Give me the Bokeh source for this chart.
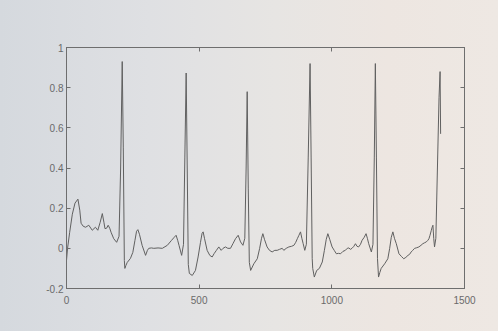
from bokeh.plotting import figure
from bokeh.models import LinearAxis, FixedTicker, InlineStyleSheet, Range1d
from bokeh.embed import file_html
from bokeh.resources import INLINE

# ECG trace
ecg_x = [0, 4, 12, 22, 32, 43, 50, 55, 63, 72, 84, 97, 109, 118, 127, 135, 141, 145, 151, 157,
         163, 168, 178, 189, 198, 204, 210, 214, 218, 220, 224, 229, 241, 250, 258, 264, 269, 275,
         285, 298, 305, 310, 320, 329, 345, 361, 380, 396, 406, 413, 419, 424, 434, 441, 446, 451,
         455, 459, 463, 474, 486, 496, 505, 511, 515, 520, 530, 540, 549, 557, 565, 574, 583, 590,
         599, 608, 618, 628, 637, 647, 656, 665, 672, 677, 681, 685, 689, 694, 706, 719, 728, 735,
         740, 746, 756, 765, 775, 785, 794, 803, 813, 819, 828, 838, 848, 857, 864, 870, 876, 882,
         887, 892, 898, 904, 911, 918, 922, 926, 928, 934, 943, 953, 964, 972, 979, 985, 992, 1001,
         1009, 1017, 1025, 1033, 1042, 1051, 1058, 1064, 1070, 1076, 1083, 1089, 1095, 1101, 1108,
         1114, 1122, 1129, 1134, 1139, 1149, 1155, 1160, 1164, 1168, 1172, 1176, 1181, 1186, 1199,
         1211, 1218, 1224, 1230, 1236, 1243, 1253, 1262, 1271, 1279, 1287, 1293, 1299, 1305, 1312,
         1320, 1328, 1336, 1343, 1350, 1356, 1362, 1366, 1370, 1375, 1378, 1381, 1384, 1387, 1392,
         1398, 1404, 1408, 1410]
ecg_y = [-0.06, 0.0, 0.08, 0.17, 0.225, 0.245, 0.19, 0.125, 0.11, 0.105, 0.115, 0.09, 0.105, 0.09,
         0.13, 0.173, 0.13, 0.098, 0.1, 0.115, 0.1, 0.08, 0.048, 0.03, 0.06, 0.4, 0.93, 0.5, -0.06,
         -0.1, -0.085, -0.07, -0.05, -0.02, 0.04, 0.085, 0.093, 0.07, 0.015, -0.035, -0.01, 0.0,
         0.002, 0.0, 0.002, 0.0, 0.015, 0.04, 0.055, 0.065, 0.04, 0.015, -0.035, 0.02, 0.45, 0.873,
         0.4, -0.08, -0.125, -0.135, -0.11, -0.043, 0.03, 0.075, 0.082, 0.05, -0.01, -0.035, -0.043,
         -0.025, -0.01, 0.007, -0.01, 0.0, 0.007, 0.0, 0.0, 0.025, 0.048, 0.065, 0.032, 0.015, 0.05,
         0.4, 0.78, 0.3, -0.07, -0.11, -0.077, -0.052, 0.0, 0.05, 0.073, 0.045, 0.007, -0.01, -0.018,
         -0.01, -0.01, -0.005, 0.0, -0.01, 0.0, 0.007, 0.01, 0.015, 0.03, 0.048, 0.065, 0.082, 0.05,
         0.023, -0.01, 0.02, 0.45, 0.92, 0.45, -0.05, -0.1, -0.143, -0.11, -0.1, -0.068, -0.01, 0.045,
         0.073, 0.045, 0.007, -0.01, -0.027, -0.025, -0.027, -0.015, -0.01, 0.0, 0.002, -0.005, 0.0,
         0.01, 0.023, 0.01, 0.007, 0.02, 0.04, 0.055, 0.073, 0.05, 0.023, -0.018, 0.02, 0.45, 0.92,
         0.45, -0.05, -0.143, -0.12, -0.1, -0.077, -0.052, 0.0, 0.055, 0.082, 0.05, 0.023, -0.027,
         -0.04, -0.052, -0.045, -0.035, -0.03, -0.018, -0.01, 0.0, 0.003, 0.007, 0.015, 0.023, 0.028,
         0.032, 0.04, 0.048, 0.065, 0.09, 0.105, 0.115, 0.05, 0.007, 0.05, 0.4, 0.75, 0.88, 0.57]

x_ticks = [0, 500, 1000, 1500]
y_ticks = [-0.2, 0, 0.2, 0.4, 0.6, 0.8, 1]
y_labels = {-0.2: "-0.2", 0: "0", 0.2: "0.2", 0.4: "0.4", 0.6: "0.6", 0.8: "0.8", 1: "1"}

css = InlineStyleSheet(css=":host { background: linear-gradient(to right, #d5d9de 0%, #dfe0e3 30%, #e7e5e3 55%, #ede6e1 78%, #eee8e3 100%); }")

p = figure(width=498, height=331, output_backend="svg", toolbar_location=None,
           x_range=Range1d(0, 1500), y_range=Range1d(-0.2, 1),
           min_border_left=66, min_border_right=34, min_border_top=47, min_border_bottom=43,
           x_axis_location=None, y_axis_location=None,
           background_fill_color=None, border_fill_color=None,
           outline_line_color="#6e6e6e", outline_line_width=1,
           stylesheets=[css])
p.grid.visible = False

label_font = "Liberation Sans"
axis_color = "#6e6e6e"
label_color = "#6a6a6a"

def style(ax, show_labels, standoff):
    ax.axis_line_color = axis_color
    ax.major_tick_line_color = axis_color
    ax.major_tick_in = 4
    ax.major_tick_out = 0
    ax.minor_tick_line_color = None
    ax.major_label_text_font = label_font
    ax.major_label_text_font_size = "10px"
    ax.major_label_text_color = label_color if show_labels else None
    ax.major_label_standoff = standoff

bottom = LinearAxis(ticker=FixedTicker(ticks=x_ticks))
style(bottom, True, 7)
p.add_layout(bottom, "below")
left = LinearAxis(ticker=FixedTicker(ticks=y_ticks), major_label_overrides=y_labels)
style(left, True, 3)
p.add_layout(left, "left")
top = LinearAxis(ticker=FixedTicker(ticks=x_ticks))
style(top, False, 2)
top.major_label_text_font_size = "0px"
p.add_layout(top, "above")
right = LinearAxis(ticker=FixedTicker(ticks=y_ticks))
style(right, False, 2)
right.major_label_text_font_size = "0px"
p.add_layout(right, "right")

p.line(ecg_x, ecg_y, line_color="#606060", line_width=1)

open("out.html", "w").write(file_html(p, INLINE))
